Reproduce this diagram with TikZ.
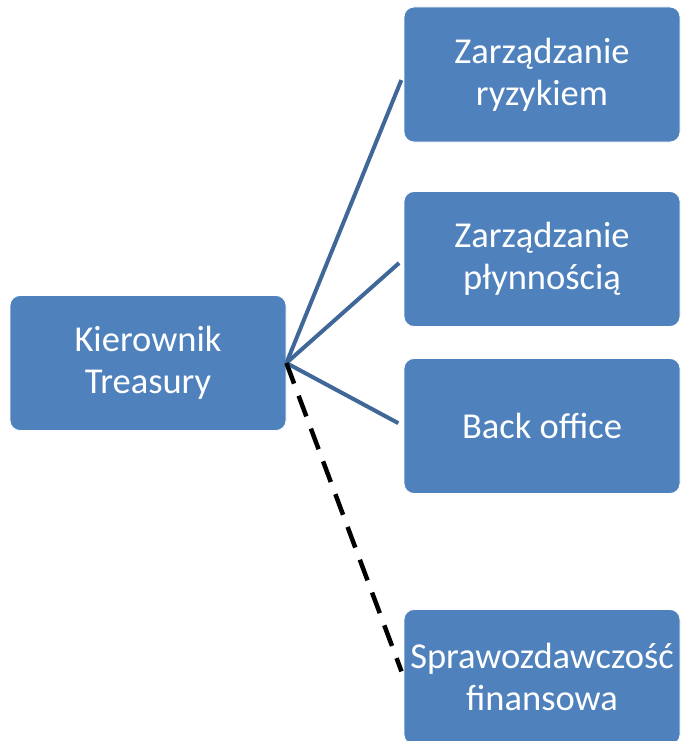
\documentclass[tikz,border=0pt]{standalone}
\usepackage{fontspec}
\setmainfont{Carlito}
\usepackage{xcolor}
\definecolor{boxblue}{HTML}{4F81BD}
\definecolor{linkblue}{HTML}{3F6797}
\usepackage{tikz}
\usetikzlibrary{positioning}

\begin{document}
\begin{tikzpicture}[x=1pt, y=-1pt,
    every node/.style={font=\fontsize{36.5}{42}\selectfont},
    unit/.style={draw=white, line width=0.8pt, fill=boxblue, text=white,
                 rounded corners=10pt, minimum width=276pt,
                 minimum height=135pt, align=center, inner sep=1pt},
    link/.style={draw=linkblue, line width=4pt, shorten >=6pt},
    dotlink/.style={draw=black, line width=4.5pt, dash pattern=on 22pt off 13pt,
                    shorten >=6pt}]
  \useasboundingbox (0,0) rectangle (683,741);
  \clip (0,0) rectangle (683,741);
  \node[unit] (head) at (148,363) {Kierownik\\Treasury};
  \node[unit] (risk) at (542,74.5) {Zarządzanie\\ryzykiem};
  \node[unit] (liq)  at (542,259) {Zarządzanie\\płynnością};
  \node[unit] (back) at (542,426) {Back office};
  \node[unit] (rep)  at (542,677) {Sprawozdawczość\\finansowa};
  \draw[link] (head.east) -- (risk.west);
  \draw[link] (head.east) -- (liq.west);
  \draw[link] (head.east) -- (back.west);
  \draw[dotlink] (head.east) -- (rep.west);
\end{tikzpicture}
\end{document}
